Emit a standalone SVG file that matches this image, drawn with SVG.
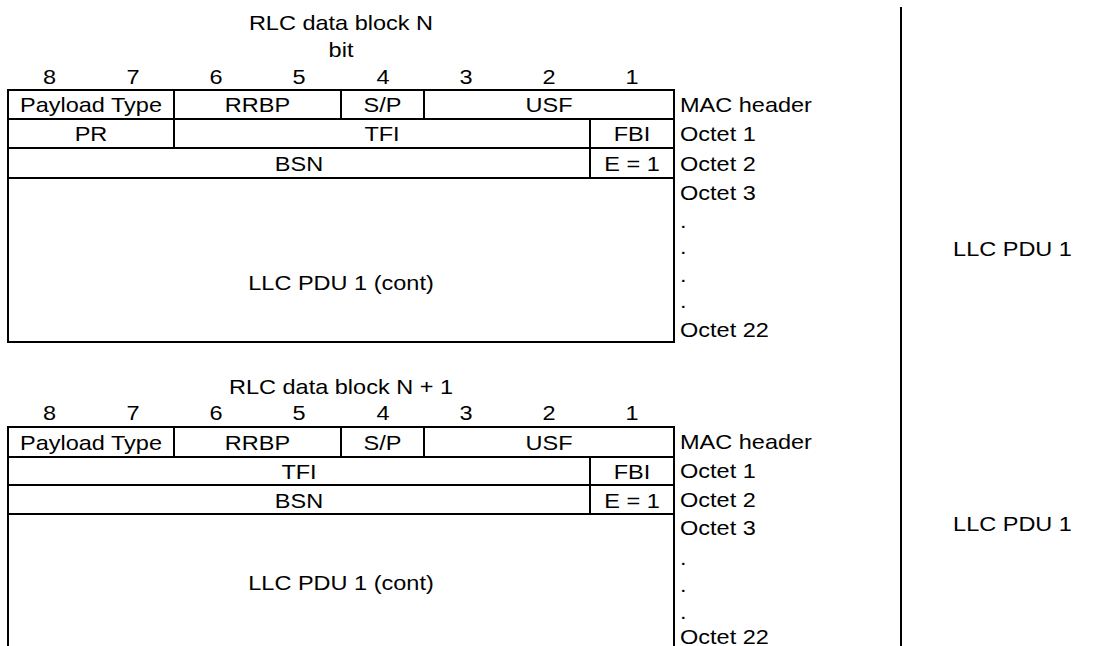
<svg xmlns="http://www.w3.org/2000/svg" width="1117" height="646" viewBox="0 0 1117 646">
<style>
.bg{fill:#ffffff}
.ln{stroke:#000000;stroke-width:2;fill:none;stroke-linecap:square}
.t{font-family:"Liberation Sans",Arial,Helvetica,sans-serif;font-size:21px;fill:#000000}
.m{text-anchor:middle}
.s{text-anchor:start}
</style>
<rect class="bg" x="0" y="0" width="1117" height="646"/>
<g id="connectors"></g>

<!-- Block N -->
<g id="block-n">
  <g id="block-n-frame">
    <rect class="ln" x="8" y="90" width="666" height="252"/>
    <line class="ln" x1="8" y1="119" x2="674" y2="119"/>
    <line class="ln" x1="8" y1="148" x2="674" y2="148"/>
    <line class="ln" x1="8" y1="178" x2="674" y2="178"/>
    <line class="ln" x1="174" y1="90" x2="174" y2="148"/>
    <line class="ln" x1="341" y1="90" x2="341" y2="119"/>
    <line class="ln" x1="424" y1="90" x2="424" y2="119"/>
    <line class="ln" x1="590" y1="119" x2="590" y2="178"/>
  </g>
  <g id="block-n-title">
    <text class="t m" transform="translate(341 30) scale(1.12 1)">RLC data block N</text>
    <text class="t m" transform="translate(341 57) scale(1.12 1)">bit</text>
  </g>
  <g id="block-n-bits">
    <text class="t m" transform="translate(49.6 84) scale(1.12 1)">8</text>
    <text class="t m" transform="translate(133 84) scale(1.12 1)">7</text>
    <text class="t m" transform="translate(216 84) scale(1.12 1)">6</text>
    <text class="t m" transform="translate(299 84) scale(1.12 1)">5</text>
    <text class="t m" transform="translate(383 84) scale(1.12 1)">4</text>
    <text class="t m" transform="translate(466 84) scale(1.12 1)">3</text>
    <text class="t m" transform="translate(549 84) scale(1.12 1)">2</text>
    <text class="t m" transform="translate(632 84) scale(1.12 1)">1</text>
  </g>
  <g id="n-payload-type"><text class="t m" transform="translate(91 112) scale(1.12 1)">Payload Type</text></g>
  <g id="n-rrbp"><text class="t m" transform="translate(257.5 112) scale(1.12 1)">RRBP</text></g>
  <g id="n-sp"><text class="t m" transform="translate(382.5 112) scale(1.12 1)">S/P</text></g>
  <g id="n-usf"><text class="t m" transform="translate(549 112) scale(1.12 1)">USF</text></g>
  <g id="n-pr"><text class="t m" transform="translate(91 141) scale(1.12 1)">PR</text></g>
  <g id="n-tfi"><text class="t m" transform="translate(382 141) scale(1.12 1)">TFI</text></g>
  <g id="n-fbi"><text class="t m" transform="translate(632 141) scale(1.12 1)">FBI</text></g>
  <g id="n-bsn"><text class="t m" transform="translate(299 171) scale(1.12 1)">BSN</text></g>
  <g id="n-e"><text class="t m" transform="translate(632 171) scale(1.12 1)">E = 1</text></g>
  <g id="n-llc-cont"><text class="t m" transform="translate(341 290) scale(1.12 1)">LLC PDU 1 (cont)</text></g>
  <g id="n-labels">
    <text class="t s" transform="translate(680 112) scale(1.12 1)">MAC header</text>
    <text class="t s" transform="translate(680 141) scale(1.12 1)">Octet 1</text>
    <text class="t s" transform="translate(680 171) scale(1.12 1)">Octet 2</text>
    <text class="t s" transform="translate(680 200) scale(1.12 1)">Octet 3</text>
    <text class="t s" transform="translate(680 228) scale(1.12 1)">.</text>
    <text class="t s" transform="translate(680 254) scale(1.12 1)">.</text>
    <text class="t s" transform="translate(680 282) scale(1.12 1)">.</text>
    <text class="t s" transform="translate(680 308) scale(1.12 1)">.</text>
    <text class="t s" transform="translate(680 337) scale(1.12 1)">Octet 22</text>
  </g>
</g>

<!-- Block N + 1 -->
<g id="block-n1">
  <g id="block-n1-frame">
    <line class="ln" x1="8" y1="427" x2="674" y2="427"/>
    <line class="ln" x1="8" y1="427" x2="8" y2="650"/>
    <line class="ln" x1="674" y1="427" x2="674" y2="650"/>
    <line class="ln" x1="8" y1="457" x2="674" y2="457"/>
    <line class="ln" x1="8" y1="485" x2="674" y2="485"/>
    <line class="ln" x1="8" y1="514" x2="674" y2="514"/>
    <line class="ln" x1="174" y1="427" x2="174" y2="457"/>
    <line class="ln" x1="341" y1="427" x2="341" y2="457"/>
    <line class="ln" x1="424" y1="427" x2="424" y2="457"/>
    <line class="ln" x1="590" y1="457" x2="590" y2="514"/>
  </g>
  <g id="block-n1-title">
    <text class="t m" transform="translate(341 394) scale(1.12 1)">RLC data block N + 1</text>
  </g>
  <g id="block-n1-bits">
    <text class="t m" transform="translate(49.6 420) scale(1.12 1)">8</text>
    <text class="t m" transform="translate(133 420) scale(1.12 1)">7</text>
    <text class="t m" transform="translate(216 420) scale(1.12 1)">6</text>
    <text class="t m" transform="translate(299 420) scale(1.12 1)">5</text>
    <text class="t m" transform="translate(383 420) scale(1.12 1)">4</text>
    <text class="t m" transform="translate(466 420) scale(1.12 1)">3</text>
    <text class="t m" transform="translate(549 420) scale(1.12 1)">2</text>
    <text class="t m" transform="translate(632 420) scale(1.12 1)">1</text>
  </g>
  <g id="n1-payload-type"><text class="t m" transform="translate(91 450) scale(1.12 1)">Payload Type</text></g>
  <g id="n1-rrbp"><text class="t m" transform="translate(257.5 450) scale(1.12 1)">RRBP</text></g>
  <g id="n1-sp"><text class="t m" transform="translate(382.5 450) scale(1.12 1)">S/P</text></g>
  <g id="n1-usf"><text class="t m" transform="translate(549 450) scale(1.12 1)">USF</text></g>
  <g id="n1-tfi"><text class="t m" transform="translate(299 479) scale(1.12 1)">TFI</text></g>
  <g id="n1-fbi"><text class="t m" transform="translate(632 479) scale(1.12 1)">FBI</text></g>
  <g id="n1-bsn"><text class="t m" transform="translate(299 508) scale(1.12 1)">BSN</text></g>
  <g id="n1-e"><text class="t m" transform="translate(632 508) scale(1.12 1)">E = 1</text></g>
  <g id="n1-llc-cont"><text class="t m" transform="translate(341 590) scale(1.12 1)">LLC PDU 1 (cont)</text></g>
  <g id="n1-labels">
    <text class="t s" transform="translate(680 449) scale(1.12 1)">MAC header</text>
    <text class="t s" transform="translate(680 478) scale(1.12 1)">Octet 1</text>
    <text class="t s" transform="translate(680 507) scale(1.12 1)">Octet 2</text>
    <text class="t s" transform="translate(680 535) scale(1.12 1)">Octet 3</text>
    <text class="t s" transform="translate(680 565) scale(1.12 1)">.</text>
    <text class="t s" transform="translate(680 592) scale(1.12 1)">.</text>
    <text class="t s" transform="translate(680 619) scale(1.12 1)">.</text>
    <text class="t s" transform="translate(680 644) scale(1.12 1)">Octet 22</text>
  </g>
</g>

<!-- Right column -->
<g id="llc-column">
  <line class="ln" x1="901" y1="8" x2="901" y2="650"/>
  <g id="llc-pdu-1a"><text class="t m" transform="translate(1012.5 256) scale(1.12 1)">LLC PDU 1</text></g>
  <g id="llc-pdu-1b"><text class="t m" transform="translate(1012.5 531) scale(1.12 1)">LLC PDU 1</text></g>
</g>
</svg>
